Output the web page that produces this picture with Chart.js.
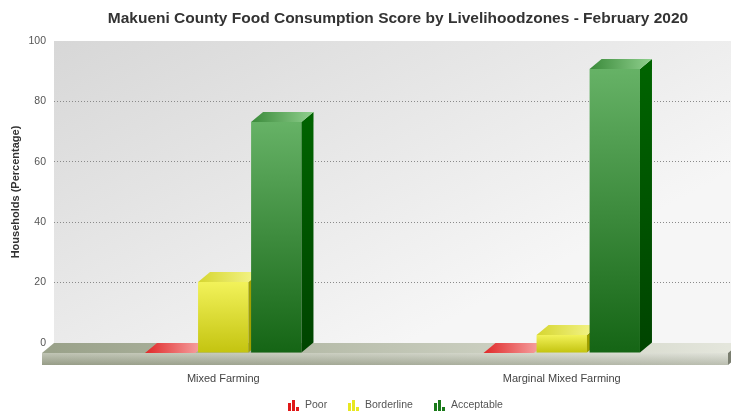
<!DOCTYPE html>
<html>
<head>
<meta charset="utf-8">
<script src="https://cdn.jsdelivr.net/npm/chart.js@4"></script>
<style>
  html, body { margin: 0; padding: 0; background: #ffffff; }
  #wrap { width: 731px; height: 412px; }
</style>
</head>
<body>
<div id="wrap"><canvas id="fcsChart" width="731" height="412"></canvas></div>
<script>
// Food consumption score per livelihood zone (% of households)
const zones = ['Mixed Farming', 'Marginal Mixed Farming'];
const poor = [0, 0];
const borderline = [23.5, 6];
const acceptable = [76.5, 94];
const yTicks = [0, 20, 40, 60, 80, 100];

const DX = 12;   // depth offset of the 3D columns
const DY = 10;
const FONT = '"Liberation Sans", Arial, sans-serif';

const palette = {
  Poor:       { front: ['#f04848', '#c81818'], side: '#9a1010', top: ['#e02828', '#f8b0b0'] },
  Borderline: { front: ['#f2f25a', '#c4c410'], side: '#a0a000', top: ['#d6d630', '#f6f690'] },
  Acceptable: { front: ['#66b266', '#156515'], side: ['#006400', '#004400'], top: ['#3a8a3a', '#90d08e'] }
};

function poly(ctx, pts, fill) {
  ctx.beginPath();
  ctx.moveTo(pts[0][0], pts[0][1]);
  for (let i = 1; i < pts.length; i++) ctx.lineTo(pts[i][0], pts[i][1]);
  ctx.closePath();
  ctx.fillStyle = fill;
  ctx.fill();
}

function vGrad(ctx, y0, y1, c0, c1) {
  const g = ctx.createLinearGradient(0, y0, 0, y1);
  g.addColorStop(0, c0);
  g.addColorStop(1, c1);
  return g;
}

function hGrad(ctx, x0, x1, c0, c1) {
  const g = ctx.createLinearGradient(x0, 0, x1, 0);
  g.addColorStop(0, c0);
  g.addColorStop(1, c1);
  return g;
}

// back wall behind the grid
const wallPlugin = {
  id: 'wall',
  beforeDraw(chart) {
    const { ctx, chartArea: a } = chart;
    ctx.save();
    const g = ctx.createLinearGradient(a.left, a.top, a.left + 200, a.bottom + 80);
    g.addColorStop(0, '#d7d7d7');
    g.addColorStop(1, '#f6f6f6');
    ctx.fillStyle = g;
    ctx.fillRect(a.left, a.top, chart.width - a.left, a.bottom - a.top);

    // title
    ctx.fillStyle = '#333333';
    ctx.font = 'bold 15.5px ' + FONT;
    ctx.textAlign = 'center';
    ctx.textBaseline = 'middle';
    ctx.fillText('Makueni County Food Consumption Score by Livelihoodzones - February 2020', 398, 19);
    ctx.restore();
  },
  // floor slab over the grid, under the columns
  beforeDatasetsDraw(chart) {
    const { ctx, chartArea: a } = chart;
    const y0 = a.bottom, x0 = a.left;
    const xr = chart.width - 3;
    ctx.save();
    poly(ctx, [[x0, y0], [xr + DX, y0], [xr, y0 + DY], [x0 - DX, y0 + DY]],
      hGrad(ctx, x0, xr, '#9aa28a', '#e4e6dc'));
    poly(ctx, [[x0 - DX, y0 + DY], [xr, y0 + DY], [xr, y0 + DY + 12], [x0 - DX, y0 + DY + 12]],
      vGrad(ctx, y0 + DY, y0 + DY + 12, '#d4d7cb', '#9fa491'));
    ctx.globalAlpha = 0.35;
    poly(ctx, [[x0 - DX, y0 + DY], [xr, y0 + DY], [xr, y0 + DY + 12], [x0 - DX, y0 + DY + 12]],
      hGrad(ctx, x0, xr, 'rgba(120,130,100,0.6)', 'rgba(255,255,255,0.8)'));
    ctx.globalAlpha = 1;
    poly(ctx, [[xr, y0 + DY], [xr + DX, y0], [xr + DX, y0 + 12], [xr, y0 + DY + 12]], '#7a7e70');
    ctx.restore();
  },
  // 3D columns from the bar elements
  afterDatasetsDraw(chart) {
    const { ctx } = chart;
    ctx.save();
    chart.data.datasets.forEach((ds, i) => {
      const col = palette[ds.label];
      chart.getDatasetMeta(i).data.forEach(bar => {
        const l = bar.x - bar.width / 2, r = bar.x + bar.width / 2;
        const t = bar.y + DY, b = bar.base + DY;
        if (b - t > 0.5) {
          poly(ctx, [[l, t], [r, t], [r, b], [l, b]], vGrad(ctx, t, b, col.front[0], col.front[1]));
          const side = Array.isArray(col.side) ? vGrad(ctx, t - DY, b, col.side[0], col.side[1]) : col.side;
          poly(ctx, [[r, t], [r + DX, t - DY], [r + DX, b - DY], [r, b]], side);
        }
        poly(ctx, [[l, t], [l + DX, t - DY], [r + DX, t - DY], [r, t]], hGrad(ctx, l, r + DX, col.top[0], col.top[1]));
      });
    });
    ctx.restore();
  },
  // legend with small column icons
  afterDraw(chart) {
    const { ctx } = chart;
    const items = [
      { label: 'Poor', x: 288, color: '#e01818' },
      { label: 'Borderline', x: 348, color: '#e8e820' },
      { label: 'Acceptable', x: 434, color: '#1a7a1a' }
    ];
    ctx.save();
    ctx.font = '10.5px ' + FONT;
    ctx.textBaseline = 'middle';
    ctx.textAlign = 'left';
    items.forEach(it => {
      const base = 411;
      ctx.fillStyle = it.color;
      ctx.fillRect(it.x, base - 8, 3, 8);
      ctx.fillRect(it.x + 4, base - 11, 3, 11);
      ctx.fillRect(it.x + 8, base - 4, 3, 4);
      ctx.fillStyle = '#555555';
      ctx.fillText(it.label, it.x + 17, 405);
    });
    ctx.restore();
  }
};

new Chart(document.getElementById('fcsChart'), {
  type: 'bar',
  data: {
    labels: zones,
    datasets: [
      { label: 'Poor', data: poor },
      { label: 'Borderline', data: borderline },
      { label: 'Acceptable', data: acceptable }
    ].map(d => Object.assign(d, { backgroundColor: 'rgba(0,0,0,0)', borderWidth: 0 }))
  },
  options: {
    responsive: false,
    animation: false,
    events: [],
    layout: { padding: { top: 41, right: 0, bottom: 0, left: 0 } },
    datasets: { bar: { categoryPercentage: 0.47, barPercentage: 0.95 } },
    plugins: { legend: { display: false }, tooltip: { enabled: false } },
    scales: {
      x: {
        offset: true,
        grid: { display: false },
        border: { display: false },
        ticks: { color: '#444444', padding: 21, font: { family: FONT, size: 11 } },
        afterFit: s => { s.height = 69; }
      },
      y: {
        min: 0,
        max: 100,
        afterBuildTicks: s => { s.ticks = yTicks.map(v => ({ value: v })); },
        // dotted grid lines on the wall
        border: { display: false, dash: [1, 2] },
        grid: {
          drawTicks: false,
          color: c => (c.tick.value === 0 || c.tick.value === 100) ? 'rgba(0,0,0,0)' : '#8a8a8a',
          lineWidth: 1
        },
        ticks: { color: '#555555', padding: 8, font: { family: FONT, size: 10.5 } },
        title: {
          display: true,
          text: 'Households (Percentage)',
          color: '#333333',
          padding: { top: 9, bottom: 0 },
          font: { family: FONT, size: 11, weight: 'bold' }
        },
        afterFit: s => { s.width = 54; }
      }
    }
  },
  plugins: [wallPlugin]
});
</script>
</body>
</html>
